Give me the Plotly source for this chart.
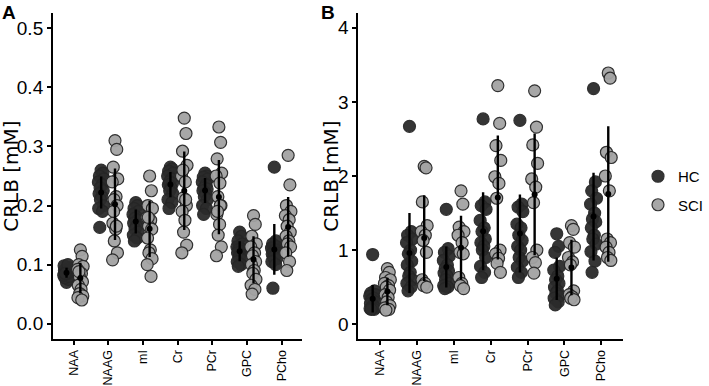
import numpy as np
import plotly.graph_objects as go

categories = ["NAA", "NAAG", "mI", "Cr", "PCr", "GPC", "PCho"]

# Panel A: CRLB [mM]
a_hc = [
    [0.07, 0.075, 0.078, 0.08, 0.082, 0.085, 0.086, 0.088, 0.09, 0.09, 0.092, 0.095, 0.098, 0.1, 0.085],
    [0.26, 0.255, 0.25, 0.245, 0.24, 0.235, 0.23, 0.225, 0.22, 0.215, 0.21, 0.2, 0.195, 0.19, 0.163],
    [0.205, 0.2, 0.195, 0.19, 0.185, 0.18, 0.178, 0.175, 0.17, 0.165, 0.16, 0.155, 0.15, 0.145, 0.14],
    [0.265, 0.262, 0.258, 0.255, 0.25, 0.245, 0.24, 0.238, 0.235, 0.23, 0.225, 0.22, 0.21, 0.205, 0.195],
    [0.255, 0.25, 0.248, 0.245, 0.24, 0.235, 0.23, 0.228, 0.225, 0.22, 0.215, 0.21, 0.2, 0.195, 0.185],
    [0.155, 0.148, 0.14, 0.135, 0.13, 0.127, 0.125, 0.122, 0.12, 0.115, 0.112, 0.108, 0.105, 0.1, 0.097],
    [0.265, 0.14, 0.135, 0.13, 0.128, 0.125, 0.122, 0.12, 0.118, 0.115, 0.112, 0.11, 0.105, 0.1, 0.06],
]
a_sci = [
    [0.125, 0.114, 0.1, 0.097, 0.092, 0.085, 0.08, 0.071, 0.065, 0.058, 0.051, 0.047, 0.044, 0.04, 0.088],
    [0.31, 0.295, 0.265, 0.245, 0.24, 0.215, 0.21, 0.2, 0.17, 0.16, 0.14, 0.12, 0.108, 0.165, 0.19],
    [0.25, 0.225, 0.2, 0.195, 0.18, 0.175, 0.165, 0.16, 0.145, 0.125, 0.12, 0.11, 0.1, 0.08, 0.18],
    [0.348, 0.322, 0.292, 0.268, 0.25, 0.24, 0.213, 0.2, 0.19, 0.175, 0.155, 0.133, 0.12, 0.21, 0.26],
    [0.333, 0.307, 0.279, 0.255, 0.25, 0.238, 0.215, 0.2, 0.185, 0.168, 0.15, 0.13, 0.115, 0.2, 0.19],
    [0.183, 0.168, 0.148, 0.135, 0.13, 0.12, 0.115, 0.105, 0.1, 0.09, 0.085, 0.075, 0.065, 0.058, 0.05],
    [0.285, 0.235, 0.2, 0.19, 0.183, 0.176, 0.165, 0.155, 0.148, 0.14, 0.135, 0.13, 0.12, 0.105, 0.09],
]

# Panel B: CRLB [mM]
b_hc = [
    [0.94, 0.45, 0.42, 0.4, 0.38, 0.35, 0.33, 0.3, 0.28, 0.25, 0.23, 0.22, 0.21, 0.2, 0.2],
    [2.67, 1.25, 1.2, 1.15, 1.1, 1.0, 0.95, 0.85, 0.8, 0.7, 0.65, 0.6, 0.55, 0.5, 0.45],
    [1.55, 1.02, 0.97, 0.92, 0.86, 0.8, 0.75, 0.72, 0.69, 0.65, 0.6, 0.55, 0.52, 0.5, 0.48],
    [2.77, 1.65, 1.6, 1.55, 1.4, 1.3, 1.25, 1.15, 1.1, 1.05, 1.0, 0.9, 0.78, 0.7, 0.63],
    [2.75, 1.62, 1.58, 1.52, 1.35, 1.3, 1.2, 1.13, 1.05, 1.0, 0.9, 0.85, 0.77, 0.7, 0.63],
    [1.22, 1.05, 0.97, 0.78, 0.73, 0.65, 0.6, 0.55, 0.5, 0.45, 0.42, 0.38, 0.35, 0.3, 0.26],
    [3.18, 1.92, 1.8, 1.7, 1.62, 1.5, 1.42, 1.38, 1.3, 1.2, 1.15, 1.08, 0.98, 0.85, 0.7],
]
b_sci = [
    [0.75, 0.7, 0.63, 0.6, 0.55, 0.52, 0.5, 0.46, 0.4, 0.36, 0.3, 0.25, 0.22, 0.2, 0.19],
    [2.13, 2.11, 1.65, 1.33, 1.25, 1.2, 1.13, 0.97, 0.6, 0.55, 0.52, 0.5],
    [1.8, 1.62, 1.31, 1.25, 1.2, 1.1, 0.97, 0.95, 0.63, 0.55, 0.52, 0.48],
    [3.22, 2.71, 2.41, 2.21, 1.99, 1.9, 1.7, 1.0, 0.95, 0.89, 0.82, 0.7],
    [3.15, 2.66, 2.42, 2.17, 1.96, 1.85, 1.64, 1.0, 0.9, 0.83, 0.69],
    [1.33, 1.28, 1.1, 1.04, 0.9, 0.84, 0.8, 0.45, 0.4, 0.37, 0.35, 0.33],
    [3.39, 3.32, 2.32, 2.25, 2.0, 1.8, 1.15, 1.1, 1.04, 0.97, 0.9, 0.86],
]

a_ticks = [0.0, 0.1, 0.2, 0.3, 0.4, 0.5]
b_ticks = [0, 1, 2, 3, 4]

groups = ["HC", "SCI"]

# ---- styling ----
HC_OFF, SCI_OFF = -0.21, 0.19
JIT = np.array([0.0, 0.05, -0.05, 0.08, -0.08, 0.03, -0.03, 0.06,
                -0.06, 0.02, -0.02, 0.07, -0.07, 0.04, -0.04])
FILL = {"HC": "#2b2b2b", "SCI": "#a3a3a3"}
EDGE = "#262626"
MS = 12

fig = go.Figure()


def add_panel(hc, sci, xa, ya, legend):
    for name, data, off in (("HC", hc, HC_OFF), ("SCI", sci, SCI_OFF)):
        xs, ys = [], []
        for gi, vals in enumerate(data):
            n = len(vals)
            xs.extend(gi + off + JIT[:n])
            ys.extend(vals)
        fig.add_trace(go.Scatter(
            x=xs, y=ys, mode="markers", name=name,
            legendgroup=name, showlegend=legend,
            marker=dict(size=MS, color=FILL[name], opacity=0.95,
                        line=dict(color=EDGE, width=1.2)),
            xaxis=xa, yaxis=ya, hoverinfo="skip"))
    for data, off in ((hc, HC_OFF), (sci, SCI_OFF)):
        mx = [gi + off for gi in range(len(data))]
        my = [float(np.mean(v)) for v in data]
        sd = [float(np.std(v, ddof=1)) for v in data]
        fig.add_trace(go.Scatter(
            x=mx, y=my, mode="markers", showlegend=False,
            marker=dict(size=6, color="black"),
            error_y=dict(type="data", array=sd, visible=True,
                         color="black", thickness=2.4, width=0),
            xaxis=xa, yaxis=ya, hoverinfo="skip"))


add_panel(a_hc, a_sci, "x", "y", True)
add_panel(b_hc, b_sci, "x2", "y2", False)

W, H = 709, 386
axis_common = dict(showline=True, linecolor="black", linewidth=2,
                   ticks="outside", ticklen=4, tickwidth=1.5, tickcolor="black",
                   showgrid=False, zeroline=False, mirror=False, automargin=False)
xcommon = dict(axis_common, range=[-0.6, 6.6], tickvals=list(range(len(categories))),
               ticktext=categories, tickangle=-90,
               tickfont=dict(family="Liberation Sans, Arial", size=12.5, color="black"))
ycommon = dict(axis_common,
               tickfont=dict(family="Liberation Sans, Arial", size=19, color="black"))

ydom = [1 - 339 / H, 1 - 13 / H]
fig.update_layout(
    width=W, height=H,
    margin=dict(l=0, r=0, t=0, b=0),
    paper_bgcolor="white", plot_bgcolor="white",
    xaxis=dict(xcommon, domain=[54 / W, 308 / W], anchor="y"),
    yaxis=dict(ycommon, domain=ydom, anchor="x", range=[-0.026, 0.526],
               tickvals=a_ticks, ticktext=[f"{t:.1f}" for t in a_ticks]),
    xaxis2=dict(xcommon, domain=[365 / W, 635 / W], anchor="y2"),
    yaxis2=dict(ycommon, domain=ydom, anchor="x2", range=[-0.2, 4.2],
                tickvals=b_ticks, ticktext=[str(t) for t in b_ticks]),
    legend=dict(x=650 / W, y=1 - 160 / H, xanchor="left", yanchor="top",
                font=dict(family="Liberation Sans, Arial", size=15, color="black"),
                tracegroupgap=6, bgcolor="rgba(0,0,0,0)", traceorder="grouped"),
    showlegend=True,
)

title_font = dict(family="DejaVu Sans", size=20, color="black")
ymid = 1 - 176 / H
fig.add_annotation(text="CRLB [mM]", x=11 / W, y=ymid, xref="paper", yref="paper",
                   textangle=-90, showarrow=False, font=title_font,
                   xanchor="center", yanchor="middle")
fig.add_annotation(text="CRLB [mM]", x=337 / W, y=ymid, xref="paper", yref="paper",
                   textangle=-90, showarrow=False, font=title_font,
                   xanchor="center", yanchor="middle")
label_font = dict(family="Liberation Sans, Arial", size=19, color="black")
fig.add_annotation(text="<b>A</b>", x=0 / W, y=1 - 0 / H, xref="paper", yref="paper",
                   showarrow=False, font=label_font, xanchor="left", yanchor="top")
fig.add_annotation(text="<b>B</b>", x=325 / W, y=1 - 0 / H, xref="paper", yref="paper",
                   showarrow=False, font=label_font, xanchor="left", yanchor="top")

fig.write_html("out.html")
